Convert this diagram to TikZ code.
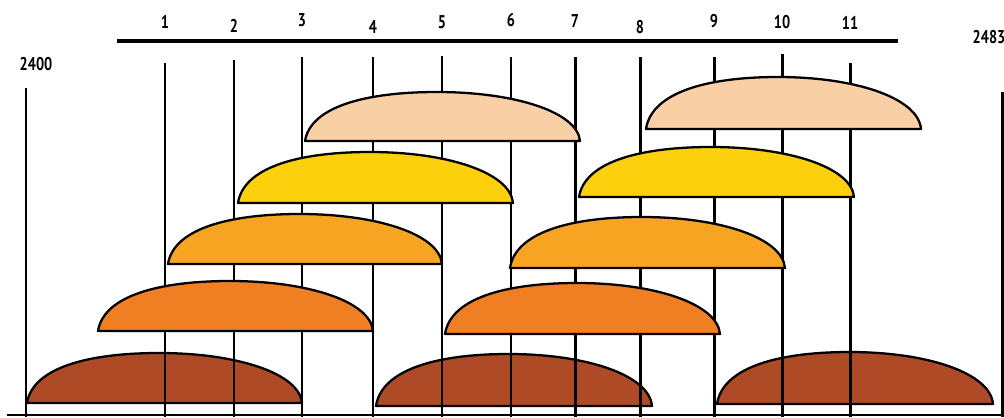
\documentclass[tikz,border=0pt]{standalone}
\usepackage{fontspec}
\newfontfamily\tickfont{PT Sans}[FakeStretch=0.78]
\usepackage{tikz}
\usetikzlibrary{calc}
\definecolor{domePeach} {RGB}{249,207,166}
\definecolor{domeYellow}{RGB}{252,208, 12}
\definecolor{domeAmber} {RGB}{246,164, 34}
\definecolor{domeOrange}{RGB}{240,127, 36}
\definecolor{domeBrown} {RGB}{174, 75, 38}

\begin{document}
\begin{tikzpicture}[x=0.02cm,y=-0.02cm,
  tick/.style={line width=1.7pt},
  dome/.style={draw=black,line width=1.3pt,line join=round},
  lbl/.style={font=\tickfont\bfseries\fontsize{10.5}{11}\selectfont,inner sep=0pt}]
\useasboundingbox (0,0) rectangle (1004,417);
% brown row sits behind the lines
\foreach \l/\r/\b/\t in {27/302/403/353,376/652/406/354,717/993/404/352}
  \filldraw[dome,fill=domeBrown] (\l,\b) .. controls ({\l+0.02*(\r-\l)},{\b-0.7*(\b-\t)}) and ({\l+0.22*(\r-\l)},\t) .. ({\l+0.48*(\r-\l)},\t)
     .. controls ({\l+0.76*(\r-\l)},\t) and ({\r-0.01*(\r-\l)},{\b-0.6*(\b-\t)}) .. (\r,\b) -- cycle;
% scale bar and lines
\draw[line width=2.3pt] (117,41) -- (898,41);
\draw[line width=1.2pt] (7,415) -- (1004,415);
\foreach \n/\x/\y/\top in {1/165/22/63,2/234/26/60,3/302/20/57,4/373/27/57,5/442/22/56,6/511/20/57,
                          7/575/21/57,8/640/27/57,9/714/21/57,10/782/22/54,11/850/23/63}{
  \draw[tick] (\x,\top) -- (\x,417);
  \node[lbl] (num\n) at (\x,\y) {\n};
}
\draw[tick] (26,88) -- (26,417);
\node[lbl] (first) at (36,64) {2400};
\draw[tick] (1002,92) -- (1002,417);
\node[lbl] (last) at (989,37) {2483};
% upper rows cover the lines
\foreach \l/\r/\b/\t/\c in {98/373/331/281/domeOrange,445/720/334/283/domeOrange,
                            168/442/264/214/domeAmber,510/785/268/217/domeAmber,
                            238/513/203/152/domeYellow,579/854/197/147/domeYellow,
                            305/580/141/92/domePeach,646/921/129/77/domePeach}
  \filldraw[dome,fill=\c] (\l,\b) .. controls ({\l+0.02*(\r-\l)},{\b-0.7*(\b-\t)}) and ({\l+0.22*(\r-\l)},\t) .. ({\l+0.48*(\r-\l)},\t)
     .. controls ({\l+0.76*(\r-\l)},\t) and ({\r-0.01*(\r-\l)},{\b-0.6*(\b-\t)}) .. (\r,\b) -- cycle;
\end{tikzpicture}
\end{document}
